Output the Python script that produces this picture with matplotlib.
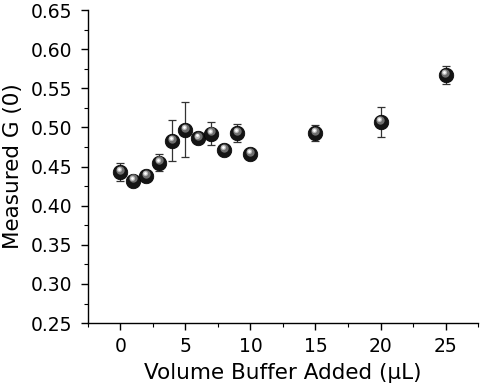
import numpy as np
import matplotlib
matplotlib.use("Agg")
import matplotlib.pyplot as plt
from matplotlib.ticker import MultipleLocator, FormatStrFormatter
from matplotlib.transforms import offset_copy

plt.rcParams['font.family'] = ['DejaVu Sans']

# volume of buffer added (uL) and measured G(0)
volume = [0, 1, 2, 3, 4, 5, 6, 7, 8, 9, 10, 15, 20, 25]
g0 = [0.443, 0.432, 0.438, 0.455, 0.483, 0.497, 0.486, 0.492,
      0.471, 0.493, 0.466, 0.493, 0.507, 0.567]
g0_err = [0.012, 0.0, 0.0, 0.011, 0.026, 0.035, 0.0, 0.015,
          0.0, 0.011, 0.0, 0.010, 0.019, 0.011]

fig = plt.figure(figsize=(4.8, 3.86), dpi=100)
ax = fig.add_axes([0.183, 0.163, 0.813, 0.811])

ax.errorbar(volume, g0, yerr=g0_err, fmt='none', ecolor='#333333',
            elinewidth=0.9, capsize=3, capthick=0.9, zorder=2)
# shiny sphere look: dark ball + soft highlight
ax.plot(volume, g0, 'o', ms=10.5, mfc='#141414', mec='#000000', mew=0.5, zorder=3)
hl = offset_copy(ax.transData, fig=fig, x=-0.6, y=1.6, units='points')
ax.plot(volume, g0, 'o', ms=6, mfc='#6e6e6e', mec='none', transform=hl, zorder=4)
hl1 = offset_copy(ax.transData, fig=fig, x=-0.8, y=1.9, units='points')
ax.plot(volume, g0, 'o', ms=3.8, mfc='#b8b8b8', mec='none', transform=hl1, zorder=5)
hl2 = offset_copy(ax.transData, fig=fig, x=-0.9, y=2.1, units='points')
ax.plot(volume, g0, 'o', ms=2.0, mfc='white', mec='none', transform=hl2, zorder=6)

ax.set_xlim(-2.5, 27.5)
ax.set_ylim(0.25, 0.65)
ax.xaxis.set_major_locator(MultipleLocator(5))
ax.xaxis.set_minor_locator(MultipleLocator(2.5))
ax.yaxis.set_major_locator(MultipleLocator(0.05))
ax.yaxis.set_minor_locator(MultipleLocator(0.025))
ax.yaxis.set_major_formatter(FormatStrFormatter('%.2f'))

for s in ['top', 'right']:
    ax.spines[s].set_visible(False)
for s in ['left', 'bottom']:
    ax.spines[s].set_linewidth(1.0)

ax.tick_params(which='major', direction='out', length=5, width=1.0,
               labelsize=13.5, color='black')
ax.tick_params(which='minor', direction='out', length=3, width=0.8)
ax.tick_params(axis='x', pad=5)
ax.tick_params(axis='y', pad=6)

ax.set_xlabel('Volume Buffer Added (μL)', fontsize=15.5, labelpad=5)
ax.set_ylabel('Measured G (0)', fontsize=15.5, labelpad=6)

fig.savefig('out.png', dpi=100)
